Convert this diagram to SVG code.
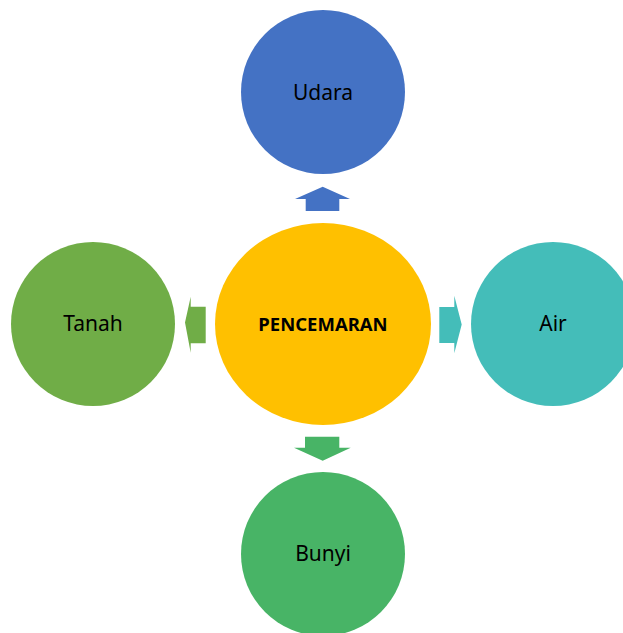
<svg xmlns="http://www.w3.org/2000/svg" width="623" height="633" viewBox="0 0 623 633">
<style>
.t{font-family:"Noto Sans","Liberation Sans",sans-serif;font-size:21px;fill:#000;text-anchor:middle;dominant-baseline:central}
.b{font-weight:bold;font-size:18.5px}
</style>
<rect width="623" height="633" fill="#fff"/>
<g id="connectors">
<polygon fill="#4472C4" points="322.7,186.7 350,199 339.3,199 339.3,211 305.7,211 305.7,199 295,199"/>
<polygon fill="#70AD47" points="185,322.5 190.7,296.7 190.7,306.7 205.7,306.7 205.7,343.3 190.7,343.3 190.7,352.7"/>
<polygon fill="#44BDB9" points="461.7,324.5 454.3,295.7 454.3,307 439.3,307 439.3,343 454.3,343 454.3,353.3"/>
<polygon fill="#48B466" points="322.7,460.7 294,447.7 305,447.7 305,436.7 339.3,436.7 339.3,447.7 350.7,447.7"/>
</g>
<g id="udara"><circle cx="323" cy="92" r="82" fill="#4472C4"/><text class="t" x="323" y="92">Udara</text></g>
<g id="tanah"><circle cx="93" cy="324" r="82" fill="#70AD47"/><text class="t" x="93" y="323">Tanah</text></g>
<g id="air"><circle cx="553" cy="324" r="82" fill="#44BDB9"/><text class="t" x="553" y="323">Air</text></g>
<g id="bunyi"><circle cx="323" cy="554" r="82" fill="#48B466"/><text class="t" x="323" y="553">Bunyi</text></g>
<g id="pencemaran"><ellipse cx="323" cy="324" rx="108" ry="101" fill="#FFC000"/><text class="t b" x="323" y="323">PENCEMARAN</text></g>
</svg>
